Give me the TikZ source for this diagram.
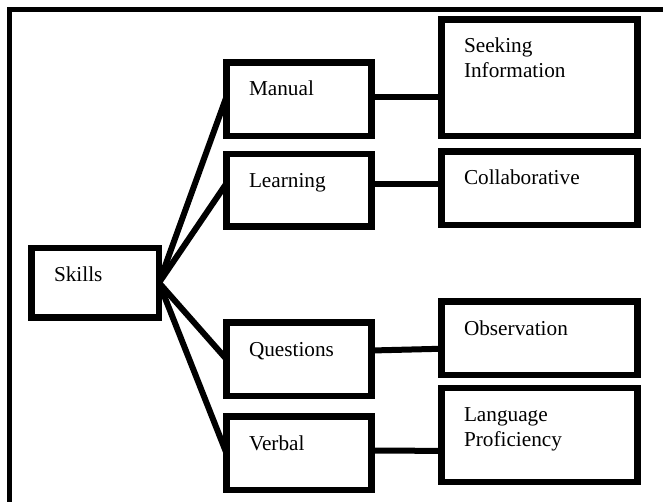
\documentclass[tikz,border=0pt]{standalone}
\usepackage{fontspec}
\setmainfont{Liberation Serif}
\begin{document}
\begin{tikzpicture}[x=1pt,y=-1pt,
  box/.style={draw, line width=6.5pt, anchor=north west, outer sep=0pt,
    inner xsep=22.5pt, inner ysep=0pt, align=left, text height=33.5pt,
    font=\fontsize{21.25}{24.5}\selectfont},
  link/.style={line width=6pt},
  frame/.style={line width=5.5pt}]
\useasboundingbox (0,0) rectangle (663,502);

% outer frame, running off the right and bottom edges
\begin{scope}
  \clip (0,0) rectangle (663,502);
  \draw[frame] (9.5,9.5) rectangle (700,540);
\end{scope}

% root
\node[box, text width=82.5pt, text depth=36pt] (skills) at (31.5,248) {Skills};

% second level
\node[box, text width=100pt, text depth=40pt]   (manual)    at (226.5,62.5)  {Manual};
\node[box, text width=100pt, text depth=39.2pt] (learning)  at (226.5,154)   {Learning};
\node[box, text width=100pt, text depth=40pt]   (questions) at (226.5,322.5) {Questions};
\node[box, text width=100pt, text depth=40pt]   (verbal)    at (226.5,416.5) {Verbal};

% third level
\node[box, text width=151pt, text depth=83.2pt] (seeking)     at (441.5,19.3)  {Seeking\\Information};
\node[box, text width=151pt, text depth=40pt]   (collab)      at (441.5,151.5) {Collaborative};
\node[box, text width=151pt, text depth=40pt]   (observation) at (441.5,301.5) {Observation};
\node[box, text width=151pt, text depth=60.3pt] (language)    at (441.5,388)   {Language\\Proficiency};

% fan-out from the root
\draw[link] (skills.east) -- ([yshift=2.5pt]manual.west);
\draw[link] (skills.east) -- ([yshift=7pt]learning.west);
\draw[link] (skills.east) -- (questions.west);
\draw[link] (skills.east) -- (verbal.west);

% second to third level
\coordinate (m1) at ([yshift=2.5pt]manual.east);
\coordinate (l1) at ([yshift=5.85pt]learning.east);
\draw[link] (m1) -- (m1 -| seeking.west);
\draw[link] (l1) -- (l1 -| collab.west);
\draw[link] ([yshift=8.75pt]questions.east) -- ([yshift=-10.5pt]observation.west);
\draw[link] ([yshift=2.75pt]verbal.east) -- ([yshift=-16pt]language.west);
\end{tikzpicture}
\end{document}
